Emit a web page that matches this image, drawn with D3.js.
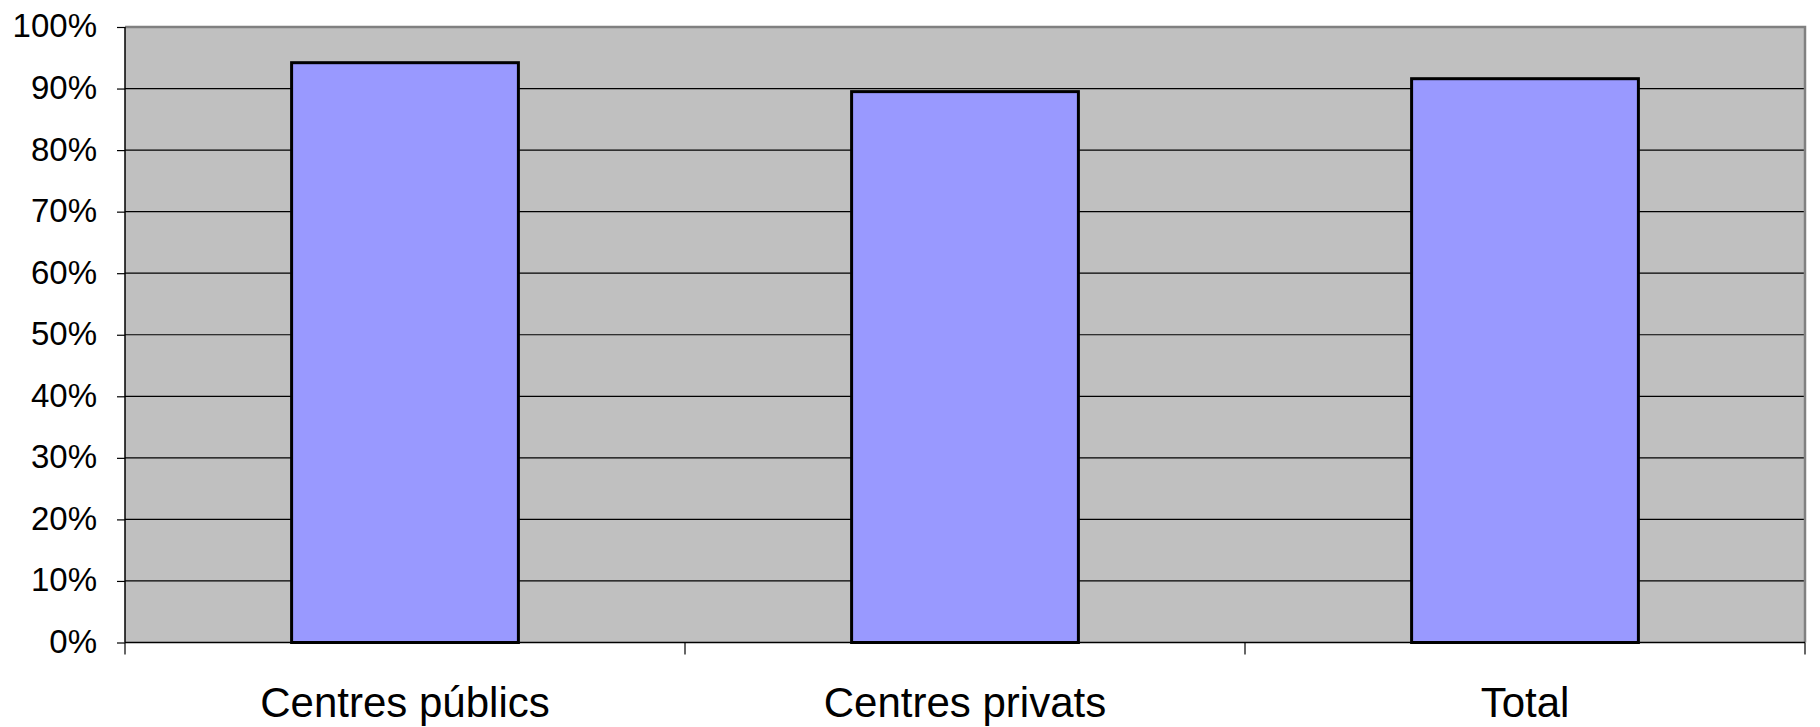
<!DOCTYPE html>
<html><head><meta charset="utf-8">
<script src="https://cdn.jsdelivr.net/npm/d3@7"></script>
<style>body{margin:0;background:#fff;}svg{display:block;font-family:"Liberation Sans",Arial,sans-serif;}</style>
</head><body>
<svg id="c" width="1820" height="727"></svg>
<script>
const categories = ["Centres públics", "Centres privats", "Total"];
const values = [0.942, 0.895, 0.916];
const yTicks = [0,0.1,0.2,0.3,0.4,0.5,0.6,0.7,0.8,0.9,1.0];

const svg = d3.select("#c");
const L = 125, R = 1805, T = 27, B = 642.5;
const x = d3.scaleBand().domain(categories).range([L, R]).paddingInner(0.595).paddingOuter(0.2975);
const y = d3.scaleLinear().domain([0, 1]).range([B, T]);

// plot background
svg.append("rect").attr("x", L).attr("y", T).attr("width", R - L).attr("height", B - T).attr("fill", "#C0C0C0");
// gridlines
svg.append("g").selectAll("line").data(yTicks.filter(d => d > 0 && d < 1)).join("line")
  .attr("x1", L).attr("x2", R).attr("y1", d => y(d)).attr("y2", d => y(d))
  .attr("stroke", "#000").attr("stroke-width", 1.2);
// plot border top/right
svg.append("path").attr("d", `M${L},${T}H${R}V${B}`).attr("fill", "none").attr("stroke", "#808080").attr("stroke-width", 2.5);

// bars
svg.append("g").selectAll("rect").data(categories).join("rect")
  .attr("x", d => x(d)).attr("width", x.bandwidth())
  .attr("y", (d, i) => y(values[i])).attr("height", (d, i) => B - y(values[i]))
  .attr("fill", "#9999FF").attr("stroke", "#000").attr("stroke-width", 3);

// y axis
const yAxis = d3.axisLeft(y).tickValues(yTicks).tickFormat(d3.format(".0%")).tickSize(8).tickPadding(20);
const gy = svg.append("g").attr("transform", `translate(${L},0)`).call(yAxis);
gy.select(".domain").attr("stroke", "#000").attr("stroke-width", 1.5).attr("d", `M0,${T}V${B}`);
gy.selectAll(".tick line").attr("stroke", "#000").attr("stroke-width", 1.2);
gy.selectAll(".tick text").attr("font-size", 33).attr("fill", "#000").attr("dy", "0.30em")
  .attr("font-family", "'Liberation Sans', Arial, sans-serif");

// x axis
const boundaries = [L, L + (R - L) / 3, L + 2 * (R - L) / 3, R];
svg.append("line").attr("x1", L).attr("x2", R).attr("y1", B).attr("y2", B).attr("stroke", "#000").attr("stroke-width", 1.5);
svg.append("g").selectAll("line").data(boundaries).join("line")
  .attr("x1", d => d).attr("x2", d => d).attr("y1", B).attr("y2", B + 12)
  .attr("stroke", "#000").attr("stroke-width", 1.2);
svg.append("g").selectAll("text").data(categories).join("text")
  .attr("x", d => x(d) + x.bandwidth() / 2).attr("y", 717)
  .attr("text-anchor", "middle").attr("font-size", 42).attr("fill", "#000")
  .text(d => d);
</script>
</body></html>
